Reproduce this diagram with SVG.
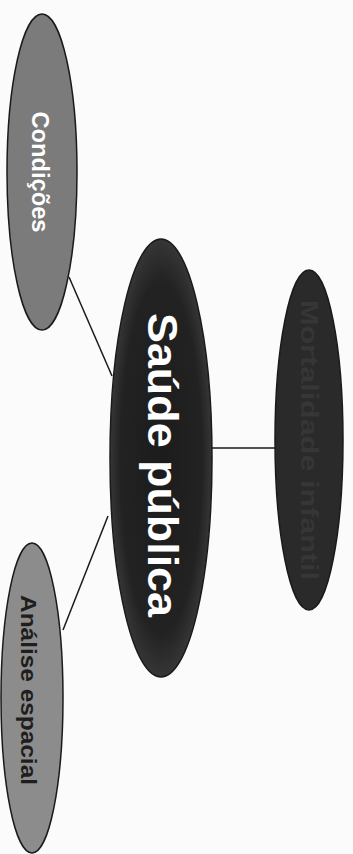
<svg xmlns="http://www.w3.org/2000/svg" width="353" height="854" viewBox="0 0 353 854">
  <style>
    .edge { stroke: #1a1a1a; stroke-width: 1.5; fill: none; }
    .node { stroke: #1a1a1a; stroke-width: 1.5; }
    .lbl { font-family: "Liberation Sans", Arial, sans-serif; font-weight: bold; text-anchor: middle; }
  </style>
  <defs>
    <radialGradient id="gDark" cx="0.5" cy="0.5" r="0.5">
      <stop offset="0" stop-color="#1c1c1c"/>
      <stop offset="0.8" stop-color="#222222"/>
      <stop offset="1" stop-color="#363636"/>
    </radialGradient>
  </defs>
  <rect x="0" y="0" width="353" height="854" fill="#fbfbfb"/>
  <g id="connectors">
    <line class="edge" x1="69" y1="277" x2="112" y2="376"/>
    <line class="edge" x1="108" y1="516" x2="63" y2="630"/>
    <line class="edge" x1="211" y1="448" x2="277" y2="448"/>
  </g>
  <g id="node-condicoes">
    <ellipse class="node" cx="42" cy="172" rx="35" ry="158" fill="#7b7b7b"/>
    <text class="lbl" transform="translate(40,172) rotate(90)" x="0" y="8" font-size="23" fill="#ffffff" textLength="121" lengthAdjust="spacingAndGlyphs">Condições</text>
  </g>
  <g id="node-analise">
    <ellipse class="node" cx="32" cy="698" rx="31" ry="155" fill="#8c8c8c"/>
    <text class="lbl" transform="translate(29,690) rotate(90)" x="0" y="8" font-size="22" fill="#1e1e1e" textLength="190" lengthAdjust="spacingAndGlyphs">Análise espacial</text>
  </g>
  <g id="node-saude">
    <ellipse class="node" cx="161" cy="458" rx="51" ry="219" fill="url(#gDark)"/>
    <text class="lbl" transform="translate(162,465) rotate(90)" x="0" y="14" font-size="42" fill="#ffffff" textLength="304" lengthAdjust="spacingAndGlyphs">Saúde pública</text>
  </g>
  <g id="node-mortalidade">
    <ellipse class="node" cx="309" cy="440" rx="34" ry="170" fill="#2a2a2a"/>
    <text class="lbl" transform="translate(309,440) rotate(90)" x="0" y="8" font-size="24" fill="#363636" textLength="280" lengthAdjust="spacingAndGlyphs">Mortalidade infantil</text>
  </g>
</svg>
